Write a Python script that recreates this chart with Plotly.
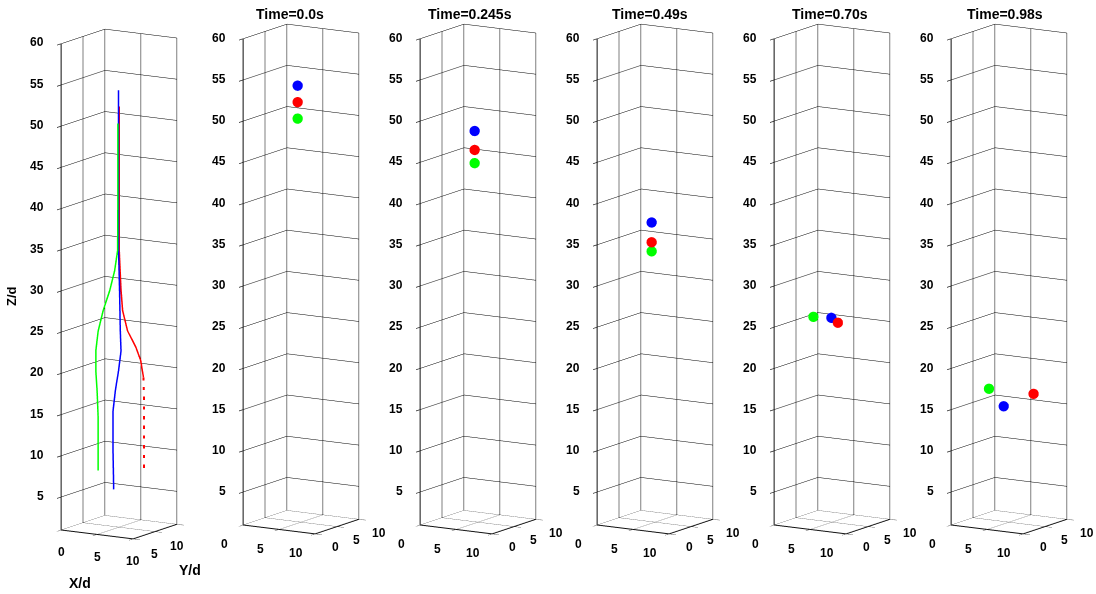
import plotly.graph_objects as go

# ---- full trajectories of the three particles (units: particle diameters d) ----
blue_x = [4.94, 4.94, 4.94, 4.94, 5.08, 5.18, 5.28, 4.94, 4.49, 4.17, 4.17, 4.26]
blue_y = [5.0, 5.0, 5.0, 5.0, 5.0, 5.0, 5.0, 5.0, 5.0, 5.0, 5.0, 5.0]
blue_z = [54.0, 50.0, 42.0, 34.6, 29.7, 24.9, 22.4, 20.0, 17.5, 15.0, 10.1, 5.5]

green_x = [4.94, 4.94, 4.90, 4.49, 3.80, 2.88, 2.19, 1.87, 1.87, 2.05, 2.19, 2.19]
green_y = [4.85, 4.85, 4.85, 4.85, 4.85, 4.85, 4.85, 4.85, 4.85, 4.85, 4.85, 4.85]
green_z = [50.0, 42.0, 34.6, 32.1, 29.6, 27.05, 24.5, 22.1, 19.6, 17.2, 14.0, 7.6]

red_x = [4.94, 4.94, 4.94, 5.18, 5.41, 6.10, 7.25, 7.93, 8.31, 8.39, 8.39, 8.39]
red_y = [5.15, 5.15, 5.15, 5.15, 5.15, 5.15, 5.15, 5.15, 5.15, 5.15, 5.15, 5.15]
red_z = [52.0, 42.0, 34.6, 29.9, 27.3, 24.9, 23.06, 21.5, 19.5, 16.7, 12.7, 7.74]
red_solid_end = 8  # points after this index are drawn dashed

# ---- snapshots of particle positions ----
times = ["0.0", "0.245", "0.49", "0.70", "0.98"]
snap_blue_x = [4.7, 4.7, 4.7, 4.9, 4.25]
snap_blue_y = [4.7, 4.7, 4.7, 5.0, 5.0]
snap_blue_z = [54.0, 48.5, 37.4, 25.8, 15.0]
snap_red_x = [4.7, 4.7, 4.7, 5.8, 8.4]
snap_red_y = [4.7, 4.7, 4.7, 5.0, 5.0]
snap_red_z = [52.0, 46.2, 35.0, 25.3, 16.95]
snap_green_x = [4.7, 4.7, 4.7, 2.4, 2.2]
snap_green_y = [4.7, 4.7, 4.7, 5.0, 5.0]
snap_green_z = [50.0, 44.6, 33.9, 25.65, 16.9]

# ---- axes ----
x_range = [0, 10]
y_range = [0, 10]
z_range = [1, 60]
xy_ticks = [0, 5, 10]
first_y_labels = [5, 10]
z_ticks = [5, 10, 15, 20, 25, 30, 35, 40, 45, 50, 55, 60]

BLUE, RED, GREEN = "#0000ff", "#ff0000", "#00ff00"
FONT = "Liberation Sans, Arial, sans-serif"
TICKFONT = dict(family=FONT, size=12, color="black", weight="bold")

fig = go.Figure()

# panel 1: trajectories
fig.add_trace(go.Scatter3d(x=red_x[:red_solid_end + 1], y=red_y[:red_solid_end + 1],
                           z=red_z[:red_solid_end + 1], mode="lines",
                           line=dict(color=RED, width=3), scene="scene", showlegend=False))
fig.add_trace(go.Scatter3d(x=red_x[red_solid_end:], y=red_y[red_solid_end:],
                           z=red_z[red_solid_end:], mode="lines",
                           line=dict(color=RED, width=4, dash="longdash"), scene="scene",
                           showlegend=False))
fig.add_trace(go.Scatter3d(x=blue_x, y=blue_y, z=blue_z, mode="lines",
                           line=dict(color=BLUE, width=3), scene="scene", showlegend=False))
fig.add_trace(go.Scatter3d(x=green_x, y=green_y, z=green_z, mode="lines",
                           line=dict(color=GREEN, width=3), scene="scene", showlegend=False))

# panels 2-6: particle positions at each time
for i in range(len(times)):
    sc = "scene%d" % (i + 2)
    for xs, ys, zs, col in ((snap_blue_x, snap_blue_y, snap_blue_z, BLUE),
                            (snap_red_x, snap_red_y, snap_red_z, RED),
                            (snap_green_x, snap_green_y, snap_green_z, GREEN)):
        fig.add_trace(go.Scatter3d(x=[xs[i]], y=[ys[i]], z=[zs[i]], mode="markers",
                                   marker=dict(color=col, size=6, line=dict(width=0)),
                                   scene=sc, showlegend=False))


def axis(rng, ticks):
    return dict(range=rng, autorange=False, tickvals=ticks,
                ticktext=[str(t) for t in ticks], title=dict(text=""),
                showticklabels=False,
                showbackground=False, showgrid=True, gridcolor="#000000", gridwidth=1,
                showline=True, linecolor="#111111", linewidth=2, zeroline=False,
                ticks="outside", ticklen=8, tickwidth=1.5, tickcolor="#222222",
                showspikes=False, tickangle=0, tickfont=TICKFONT)


def tick_labels(first):
    """Tick labels anchored to the visible edges of the box."""
    if first:
        x_off, y_off = (0, -22), (0, -22)
        y_vals = first_y_labels
    else:
        x_off, y_off = (-19, -19), (20, -13)
        y_vals = xy_ticks
    ann = []
    for t in xy_ticks:
        ann.append(dict(x=t, y=y_range[0], z=z_range[0], text=str(t), showarrow=False,
                        xshift=x_off[0], yshift=x_off[1], font=TICKFONT))
    for t in y_vals:
        ann.append(dict(x=x_range[1], y=t, z=z_range[0], text=str(t), showarrow=False,
                        xshift=y_off[0], yshift=y_off[1], font=TICKFONT))
    for t in z_ticks:
        ann.append(dict(x=x_range[0], y=y_range[0], z=t, text=str(t), showarrow=False,
                        xanchor="right", xshift=-15, yshift=1, font=TICKFONT))
    return ann


eye_dir = (0.509, -0.836, 0.203)
dist = 1.69
zoom = 1.78
axis_px = [61, 243, 420, 597, 774, 953]
W, H = 1096, 594

for i in range(6):
    name = "scene" if i == 0 else "scene%d" % (i + 1)
    left = (axis_px[i] - 31) / W
    right = min((axis_px[i] + 147) / W, 1.0)
    ydom = [0.052, 0.992] if i == 0 else [0.06, 1.0]
    fig.update_layout(**{name: dict(
        domain=dict(x=[left, right], y=ydom),
        xaxis=axis(x_range, xy_ticks),
        yaxis=axis(y_range, xy_ticks),
        zaxis=axis(z_range, z_ticks),
        aspectmode="manual",
        aspectratio=dict(x=zoom * 10 / 59, y=zoom * 10 / 59, z=zoom),
        camera=dict(projection=dict(type="orthographic"),
                    up=dict(x=0, y=0, z=1), center=dict(x=0, y=0, z=0),
                    eye=dict(x=eye_dir[0] * dist, y=eye_dir[1] * dist, z=eye_dir[2] * dist)),
        annotations=tick_labels(i == 0),
        bgcolor="white",
    )})

annotations = []
title_x = [290, 470, 650, 830, 1005]
for i, t in enumerate(times):
    annotations.append(dict(text="<b>Time=%ss</b>" % t, x=title_x[i] / W, y=1 - 14 / H,
                            xref="paper", yref="paper", xanchor="center", yanchor="middle",
                            showarrow=False,
                            font=dict(family=FONT, size=14, color="black")))
annotations.append(dict(text="<b>X/d</b>", x=80 / W, y=1 - 583 / H, xref="paper", yref="paper",
                        xanchor="center", yanchor="middle", showarrow=False,
                        font=dict(family=FONT, size=14, color="black")))
annotations.append(dict(text="<b>Y/d</b>", x=190 / W, y=1 - 570 / H, xref="paper", yref="paper",
                        xanchor="center", yanchor="middle", showarrow=False,
                        font=dict(family=FONT, size=14, color="black")))
annotations.append(dict(text="<b>Z/d</b>", x=11 / W, y=1 - 296 / H, xref="paper", yref="paper",
                        xanchor="center", yanchor="middle", textangle=-90, showarrow=False,
                        font=dict(family=FONT, size=13, color="black")))

fig.update_layout(width=W, height=H, margin=dict(l=0, r=0, t=0, b=0),
                  paper_bgcolor="white", plot_bgcolor="white",
                  annotations=annotations, showlegend=False)

fig.write_html("out.html")
